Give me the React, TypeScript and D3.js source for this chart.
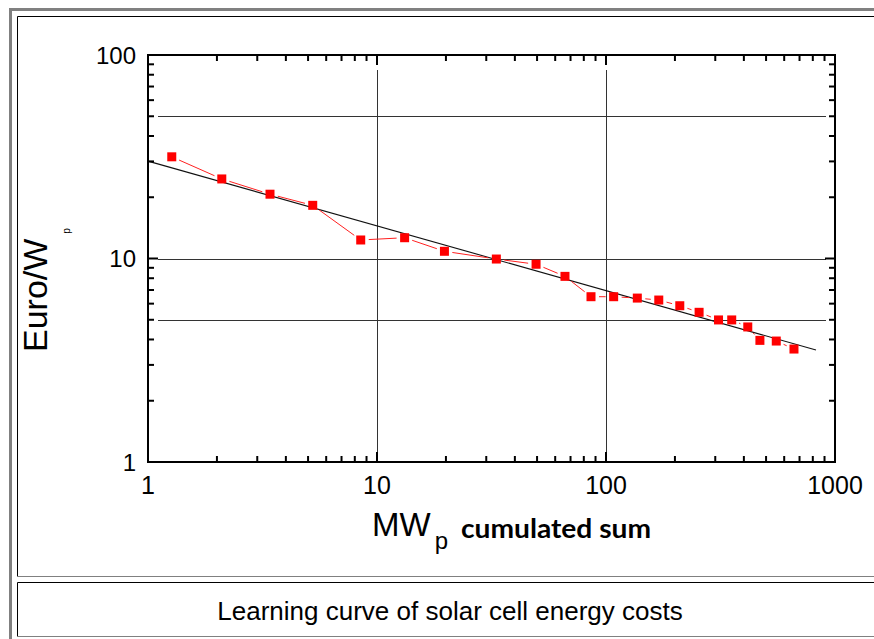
import React from "react";
import * as d3 from "d3";

// Data
const mwpCumulated = [1.27, 2.1, 3.41, 5.24, 8.49, 13.2, 19.7, 33.2, 49.5, 66.2, 86.0, 108, 137, 170, 210, 255, 310, 354, 416, 470, 554, 662];
const euroPerWp = [31.6, 24.6, 20.7, 18.25, 12.33, 12.65, 10.85, 9.94, 9.37, 8.17, 6.49, 6.49, 6.39, 6.25, 5.86, 5.44, 4.99, 4.99, 4.61, 3.96, 3.93, 3.59];
const fitX = [1, 826];
const fitY = [30.1, 3.55];
const xTickLabels = ["1", "10", "100", "1000"];
const yTickLabels = ["1", "10", "100"];
const hGrid = [50, 10, 5];
const vGrid = [10, 100];

const W = 874;
const H = 639;
const L = 148, R = 835, T = 55, B = 462;

export default function App() {
  const x = d3.scaleLog().domain([1, 1000]).range([L, R]);
  const y = d3.scaleLog().domain([1, 100]).range([B, T]);

  const minorX: number[] = [];
  for (const d of [1, 10, 100]) for (let k = 2; k <= 9; k++) minorX.push(d * k);
  const minorY: number[] = [];
  for (const d of [1, 10]) for (let k = 2; k <= 9; k++) minorY.push(d * k);
  const majorX = [10, 100];
  const majorY = [10];

  const pts = mwpCumulated.map((v, i) => [x(v), y(euroPerWp[i])] as [number, number]);
  const gap = 8;
  const segs: [number, number, number, number][] = [];
  for (let i = 0; i < pts.length - 1; i++) {
    const [x1, y1] = pts[i];
    const [x2, y2] = pts[i + 1];
    const len = Math.hypot(x2 - x1, y2 - y1);
    if (len <= 2 * gap + 1) continue;
    const ux = (x2 - x1) / len, uy = (y2 - y1) / len;
    segs.push([x1 + ux * gap, y1 + uy * gap, x2 - ux * gap, y2 - uy * gap]);
  }

  const fitLine = d3.line<number>().x((_, i) => x(fitX[i])).y((d) => y(d))(fitY) || "";

  const sans = "'Liberation Sans', Arial, sans-serif";
  const ms = 9;
  const minorLen = 6, majorLen = 10;

  return (
    <svg width={W} height={H} style={{ position: "fixed", left: 0, top: 0, background: "#fff" }}>
      {/* frames */}
      <rect x={10.5} y={9.5} width={900} height={700} fill="none" stroke="#808080" strokeWidth={3} />
      <line x1={17.5} y1={16.5} x2={W + 5} y2={16.5} stroke="#000" />
      <line x1={17.5} y1={16.5} x2={17.5} y2={576.5} stroke="#000" />
      <line x1={17.5} y1={576.5} x2={W + 5} y2={576.5} stroke="#808080" />
      <line x1={17.5} y1={582.5} x2={W + 5} y2={582.5} stroke="#000" />
      <line x1={17.5} y1={582.5} x2={17.5} y2={636.5} stroke="#000" />
      <line x1={17.5} y1={636.5} x2={W + 5} y2={636.5} stroke="#808080" />

      {/* grid */}
      {hGrid.map((v) => (
        <line key={"h" + v} x1={158} x2={826} y1={Math.round(y(v)) + 0.5} y2={Math.round(y(v)) + 0.5} stroke="#333" strokeWidth={1} />
      ))}
      {vGrid.map((v) => (
        <line key={"v" + v} y1={70} y2={452} x1={Math.round(x(v)) + 0.5} x2={Math.round(x(v)) + 0.5} stroke="#333" strokeWidth={1} />
      ))}

      {/* regression line */}
      <path d={fitLine} fill="none" stroke="#111" strokeWidth={1.1} />

      {/* connecting red segments */}
      {segs.map((s, i) => (
        <line key={"s" + i} x1={s[0]} y1={s[1]} x2={s[2]} y2={s[3]} stroke="#ff2020" strokeWidth={1} />
      ))}
      {pts.map(([px, py], i) => (
        <rect key={"p" + i} x={px - ms / 2} y={py - ms / 2} width={ms} height={ms} fill="#ff0000" />
      ))}

      {/* axes box */}
      <rect x={L} y={T} width={R - L} height={B - T} fill="none" stroke="#000" strokeWidth={2} />
      {/* ticks */}
      {minorX.map((v) => (
        <g key={"mx" + v}>
          <line x1={x(v)} x2={x(v)} y1={B} y2={B - minorLen} stroke="#000" strokeWidth={2} />
          <line x1={x(v)} x2={x(v)} y1={T} y2={T + minorLen} stroke="#000" strokeWidth={2} />
        </g>
      ))}
      {majorX.map((v) => (
        <g key={"Mx" + v}>
          <line x1={x(v)} x2={x(v)} y1={B} y2={B - majorLen} stroke="#000" strokeWidth={2} />
          <line x1={x(v)} x2={x(v)} y1={T} y2={T + majorLen} stroke="#000" strokeWidth={2} />
        </g>
      ))}
      {minorY.map((v) => (
        <g key={"my" + v}>
          <line y1={y(v)} y2={y(v)} x1={L} x2={L + minorLen} stroke="#000" strokeWidth={2} />
          <line y1={y(v)} y2={y(v)} x1={R} x2={R - minorLen} stroke="#000" strokeWidth={2} />
        </g>
      ))}
      {majorY.map((v) => (
        <g key={"My" + v}>
          <line y1={y(v)} y2={y(v)} x1={L} x2={L + majorLen} stroke="#000" strokeWidth={2} />
          <line y1={y(v)} y2={y(v)} x1={R} x2={R - majorLen} stroke="#000" strokeWidth={2} />
        </g>
      ))}

      {/* tick labels */}
      {xTickLabels.map((t) => (
        <text key={"xt" + t} x={x(+t)} y={494} textAnchor="middle" fontFamily={sans} fontSize={25} fill="#000">{t}</text>
      ))}
      {yTickLabels.map((t) => (
        <text key={"yt" + t} x={136} y={y(+t) + 8.5} textAnchor="end" fontFamily={sans} fontSize={24} fill="#000">{t}</text>
      ))}

      {/* axis titles */}
      <text x={372} y={536} fontFamily={sans} fontSize={33} fill="#000">
        MW
        <tspan fontSize={24} dy={13} dx={4}>p</tspan>
      </text>
      <text x={461} y={538} fontFamily="Lato, 'Open Sans', sans-serif" fontWeight={700} fontSize={26} fill="#000" textLength={190} lengthAdjust="spacingAndGlyphs">
        cumulated sum
      </text>
      <text transform="translate(47,352) rotate(-90)" fontFamily={sans} fontSize={34} fill="#000">
        Euro/W
        <tspan fontSize={10} dy={23} dx={5}>p</tspan>
      </text>

      {/* caption */}
      <text x={450} y={620} textAnchor="middle" fontFamily={sans} fontSize={26} fill="#000">
        Learning curve of solar cell energy costs
      </text>
    </svg>
  );
}
